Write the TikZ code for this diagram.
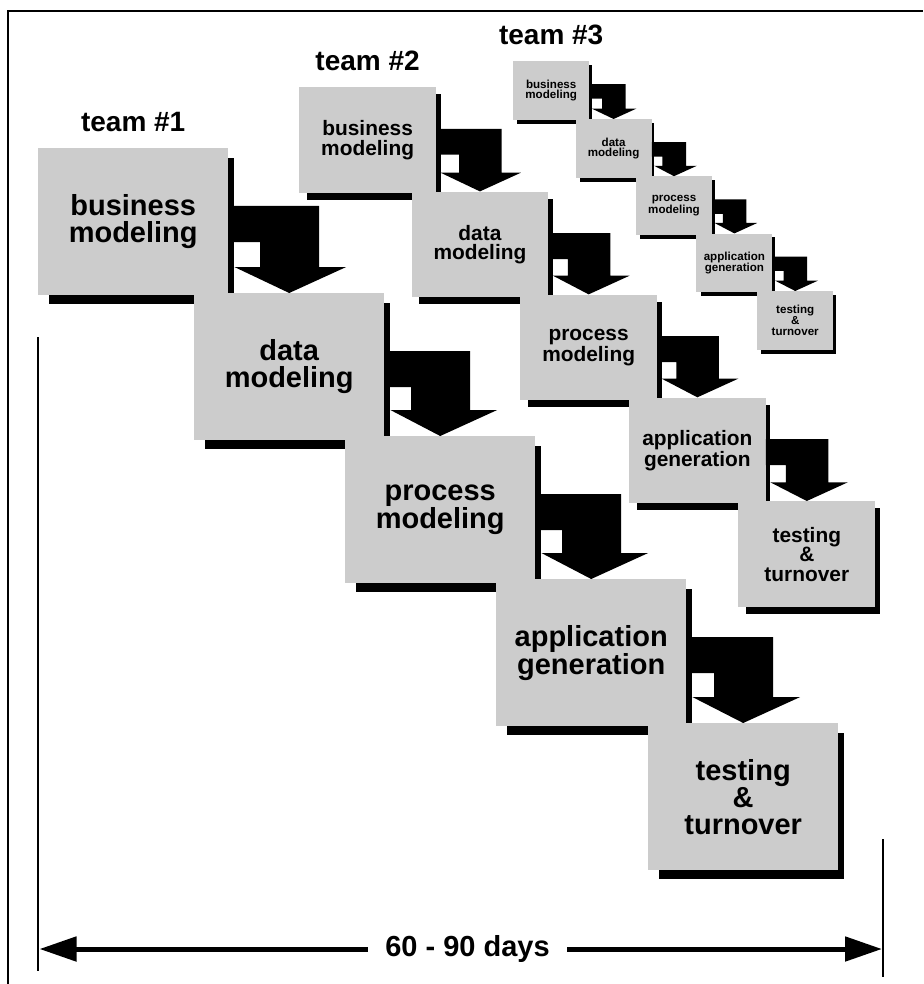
\documentclass[tikz,border=0pt]{standalone}
\usepackage{fontspec}
\setmainfont{Liberation Sans}
\usetikzlibrary{calc,arrows.meta}
\pgfdeclarelayer{paper}
\pgfdeclarelayer{background}
\pgfsetlayers{paper,background,main}
\definecolor{boxgray}{RGB}{204,204,204}

% One team: five stage boxes with drop shadows and bent arrows.
% #1 name prefix, #2/#3 top-left corner of the first box, #4 scale, #5 team label
\newcommand\processteam[5]{%
  \pgfmathsetmacro\tsc{#4}%
  \pgfmathsetmacro\tbw{190*#4}%
  \pgfmathsetmacro\tbh{147*#4}%
  \pgfmathsetmacro\tfs{29*#4}%
  \pgfmathsetmacro\tfb{27*#4}%
  \tikzset{stagebox/.style={fill=boxgray, anchor=north west, inner sep=0pt,
      align=center, text=black, minimum width=\tbw pt, minimum height=\tbh pt,
      font=\fontsize{\tfs pt}{\tfb pt}\selectfont\bfseries}}%
  \node[stagebox] (#1b1) at (#2,#3) {business\\modeling};
  \node[stagebox] (#1b2) at ({#2+156*\tsc},{#3+145*\tsc}) {data\\modeling};
  \node[stagebox] (#1b3) at ({#2+307*\tsc},{#3+288*\tsc}) {process\\modeling};
  \node[stagebox] (#1b4) at ({#2+458*\tsc},{#3+431*\tsc}) {application\\generation};
  \node[stagebox] (#1b5) at ({#2+610*\tsc},{#3+575*\tsc}) {testing\\\&\\turnover};
  \node[teamlabel] (#1lab) at ($(#1b1.north)+(0,-26)$) {#5};
  % drop shadows behind the boxes
  \begin{pgfonlayer}{background}
    \foreach \k in {1,...,5}{%
      \fill ($(#1b\k.south west)+({11*\tsc},{9*\tsc})$)
        rectangle ($(#1b\k.north east)+({6*\tsc},{10*\tsc})$);
    }
  \end{pgfonlayer}
  % bent arrows from each stage down to the next one
  \foreach \k in {1,...,4}{%
    \pgfmathtruncatemacro\kn{\k+1}%
    \coordinate (aT) at ($(#1b\k.north east)+(0,{58*\tsc})$);
    \coordinate (aB) at ($(#1b\k.north east)+(0,{94*\tsc})$);
    \coordinate (aE) at ($(#1b\k.north east)+({6*\tsc},0)$);
    \coordinate (aR) at ($(#1b\kn.north)+({30*\tsc},0)$);
    \coordinate (aL) at ($(#1b\kn.north)+({-29*\tsc},0)$);
    \coordinate (aH) at ($(#1b\kn.north)+(0,{-26*\tsc})$);
    \fill (aT) -- (aR |- aT) -- (aR |- aH) -- ($(aH)+({57*\tsc},0)$)
      -- (#1b\kn.north) -- (aE |- aH) -- (aL |- aH) -- (aL |- aB)
      -- (aB) -- cycle;
  }%
}

\begin{document}
\begin{tikzpicture}[x=1pt, y=-1pt,
  teamlabel/.style={font=\fontsize{28pt}{30pt}\selectfont\bfseries, inner sep=0pt},
  spanline/.style={line width=5pt, {Triangle[length=37pt,width=24pt]}-{Triangle[length=37pt,width=24pt]}},
  tick/.style={line width=1.4pt}]
  \useasboundingbox (0,0) rectangle (923,984);
  \begin{pgfonlayer}{paper}
    \fill[white] (0,0) rectangle (923,984);
  \end{pgfonlayer}

  % frame
  \draw[line width=2.2pt] (8,984) -- (8,11) -- (923,11);

  \processteam{ta}{38}{148}{1}{team \#1}
  \processteam{tb}{299}{87}{0.72}{team \#2}
  \processteam{tc}{513}{61}{0.4}{team \#3}

  % time span
  \coordinate (spanTopL) at (38,337);
  \coordinate (spanBotL) at (38,971);
  \coordinate (spanTopR) at (883,839);
  \coordinate (spanBotR) at (883,977);
  \draw[tick] (spanTopL) -- (spanBotL);
  \draw[tick] (spanTopR) -- (spanBotR);
  \coordinate (spanL) at (39.5,949);
  \coordinate (spanR) at (882,949);
  \draw[spanline] (spanL) -- (spanR)
    node[pos=0.508, fill=white, inner xsep=17pt, inner ysep=2pt,
         font=\fontsize{29pt}{30pt}\selectfont\bfseries] (span) {60 - 90 days};
\end{tikzpicture}
\end{document}
